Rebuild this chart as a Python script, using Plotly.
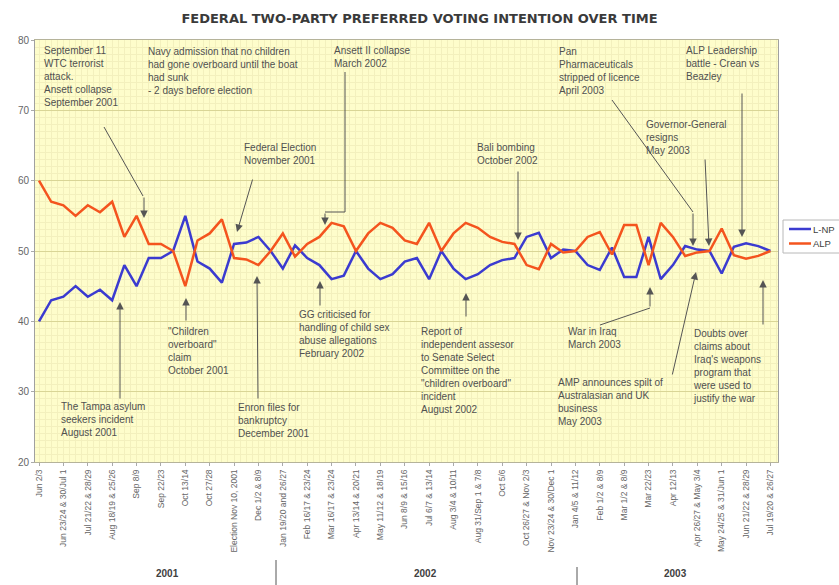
import plotly.graph_objects as go

# ---------------- data ----------------
poll_index = list(range(61))
lnp = [40, 43, 43.5, 45, 43.5, 44.5, 43, 48, 45, 49, 49, 50, 55, 48.5, 47.5, 45.5,
       51, 51.2, 52, 50, 47.5, 50.8, 49, 48, 46, 46.5, 50, 47.5, 46, 46.7, 48.5, 49,
       46, 50, 47.5, 46, 46.7, 48, 48.7, 49, 52, 52.6, 49, 50.2, 50, 48, 47.3, 50.5,
       46.3, 46.3, 52, 46, 48, 50.7, 50.2, 50, 46.8, 50.6, 51.1, 50.7, 50]
alp = [60, 57, 56.5, 55, 56.5, 55.5, 57, 52, 55, 51, 51, 50, 45, 51.5, 52.5, 54.5,
       49, 48.8, 48, 50, 52.5, 49.2, 51, 52, 54, 53.5, 50, 52.5, 54, 53.3, 51.5, 51,
       54, 50, 52.5, 54, 53.3, 52, 51.3, 51, 48, 47.4, 51, 49.8, 50, 52, 52.7, 49.5,
       53.7, 53.7, 48, 54, 52, 49.3, 49.8, 50, 53.2, 49.4, 48.9, 49.3, 50]
tick_labels = ["Jun 2/3", "Jun 23/24 & 30/Jul 1", "Jul 21/22 & 28/29", "Aug 18/19 & 25/26",
               "Sep 8/9", "Sep 22/23", "Oct 13/14", "Oct 27/28", "Election Nov 10, 2001",
               "Dec 1/2 & 8/9", "Jan 19/20 and 26/27", "Feb 16/17 & 23/24",
               "Mar 16/17 & 23/24", "Apr 13/14 & 20/21", "May 11/12 & 18/19",
               "Jun 8/9 & 15/16", "Jul 6/7 & 13/14", "Aug 3/4 & 10/11",
               "Aug 31/Sep 1 & 7/8", "Oct 5/6", "Oct 26/27 & Nov 2/3",
               "Nov 23/24 & 30/Dec 1", "Jan 4/5 & 11/12", "Feb 1/2 & 8/9",
               "Mar 1/2 & 8/9", "Mar 22/23", "Apr 12/13", "Apr 26/27 & May 3/4",
               "May 24/25 & 31/Jun 1", "Jun 21/22 & 28/29", "Jul 19/20 & 26/27"]
tick_positions = poll_index[::2]
years = ["2001", "2002", "2003"]
series_names = ["L-NP", "ALP"]
series_colors = ["#3b3bd0", "#f4541e"]

# ---------------- geometry helpers (layout only) ----------------
L, T, W, H = 35, 40, 743, 422
FW, FH = 839, 585


def px(x):
    return (x - L) / W


def py(y):
    return (T + H - y) / H


FONT = "Liberation Sans, Arial, sans-serif"
TXT = "#505050"
ARROW = "#555555"

fig = go.Figure()
for name, vals, col in zip(series_names, [lnp, alp], series_colors):
    fig.add_trace(go.Scatter(x=poll_index, y=vals, mode="lines", name=name,
                             line=dict(color=col, width=2.5), showlegend=False))

annotations = []
shapes = []


def text(x, y_center_first, s, size=10):
    annotations.append(dict(x=px(x), y=py(y_center_first - 7), xref="paper", yref="paper",
                            text=s, showarrow=False, xanchor="left", yanchor="top",
                            align="left", borderpad=0,
                            font=dict(family=FONT, size=size, color=TXT)))


def arrow(tx, ty, hx, hy):
    annotations.append(dict(x=px(hx), y=py(hy), xref="paper", yref="paper", text="",
                            showarrow=True, ax=tx - hx, ay=ty - hy, arrowhead=2,
                            arrowsize=1.5, arrowwidth=1, arrowcolor=ARROW, standoff=0))


def seg(x0, y0, x1, y1, color=ARROW, width=1):
    shapes.append(dict(type="line", xref="paper", yref="paper", x0=px(x0), y0=py(y0),
                       x1=px(x1), y1=py(y1), line=dict(color=color, width=width)))


# top callouts
text(43, 51, "September 11<br>WTC terrorist<br>attack.<br>Ansett collapse<br>September 2001")
seg(104, 127, 143, 196)
arrow(144, 196, 144, 218)

text(147, 52, "Navy admission that no children<br>had gone overboard until the boat<br>had sunk<br>- 2 days before election")

text(243, 148, "Federal Election<br>November 2001")
arrow(253, 178, 237, 232)

text(333, 51, "Ansett II collapse<br>March 2002")
seg(345, 72, 345, 212)
seg(345, 212, 325, 212)
arrow(325, 212, 325, 225)

text(476, 148, "Bali bombing<br>October 2002")
arrow(518, 170, 518, 240)

text(558, 52, "Pan<br>Pharmaceuticals<br>stripped of licence<br>April 2003")
seg(612, 100, 693, 212)
arrow(693, 212, 693, 246)

text(645, 125, "Governor-General<br>resigns<br>May 2003")
arrow(705, 158, 709, 246)

text(685, 51, "ALP Leadership<br>battle - Crean vs<br>Beazley")
arrow(742, 92, 742, 237)

# bottom callouts
text(60, 407, "The Tampa asylum<br>seekers incident<br>August 2001")
arrow(120, 400, 120, 302)

text(167, 332, "\"Children<br>overboard\"<br>claim<br>October 2001")
arrow(186, 322, 186, 298)

text(237, 408, "Enron files for<br>bankruptcy<br>December 2001")
arrow(258, 400, 257, 276)

text(298, 315, "GG criticised for<br>handling of child sex<br>abuse allegations<br>February 2002")
arrow(320, 307, 320, 281)

text(420, 332, "Report of<br>independent assesor<br>to Senate Select<br>Committee on the<br>\"children overboard\"<br>incident<br>August 2002")
arrow(466, 318, 466, 293)

text(567, 332, "War in Iraq<br>March 2003")
seg(600, 325, 650, 308)
arrow(650, 308, 650, 287)

text(557, 383, "AMP announces spilt of<br>Australasian and UK<br>business<br>May 2003")
arrow(672, 376, 696, 272)

text(692, 334, "Doubts over<br>claims about<br>Iraq's weapons<br>program that<br>were used to<br>justify the war")
arrow(763, 326, 763, 280)

# year labels
for yr, xc in zip(years, [167, 425, 675]):
    annotations.append(dict(x=px(xc), y=py(573), xref="paper", yref="paper", text="<b>%s</b>" % yr,
                            showarrow=False, xanchor="center", yanchor="middle",
                            font=dict(family=FONT, size=10, color="#404040")))
for xs, ys in [(276, 560), (577, 567)]:
    seg(xs, ys, xs, 585)

# legend (drawn by hand so it fits the narrow right margin)
shapes.append(dict(type="rect", xref="paper", yref="paper", x0=px(783), x1=px(850),
                   y0=py(253), y1=py(220), line=dict(color="#b8b8b8", width=1),
                   fillcolor="white", layer="below"))
for i, (name, col) in enumerate(zip(series_names, series_colors)):
    yy = 229 + 14.5 * i
    seg(789, yy, 811, yy, color=col, width=2.5)
    annotations.append(dict(x=px(812), y=py(yy), xref="paper", yref="paper", text=name,
                            showarrow=False, xanchor="left", yanchor="middle", borderpad=0,
                            font=dict(family=FONT, size=9.5, color="#404040")))

fig.update_layout(
    width=FW, height=FH,
    margin=dict(l=L, r=FW - L - W, t=T, b=FH - T - H, pad=0),
    paper_bgcolor="white",
    plot_bgcolor="#fefdcb",
    title=dict(text="<b>FEDERAL TWO-PARTY PREFERRED VOTING INTENTION OVER TIME</b>",
               x=0.5, xanchor="center", y=1 - 18 / FH, yanchor="middle",
               font=dict(family="DejaVu Sans, sans-serif", size=13, color="#3a3a3a")),
    showlegend=False,
    annotations=annotations,
    shapes=shapes,
    hovermode=False,
)

fig.update_xaxes(
    range=[-0.33, 60.62], tickmode="array", tickvals=tick_positions, ticktext=tick_labels,
    tickangle=-90, tickfont=dict(family=FONT, size=8.5, color="#666666"),
    showgrid=False, zeroline=False, automargin=False,
    showline=True, linecolor="#b5b39a", linewidth=1, mirror=True,
    ticks="outside", ticklen=3, tickcolor="#aaaaaa",
    minor=dict(dtick=0.5, tick0=0, showgrid=True, gridcolor="#f3f0bd", gridwidth=1),
)
fig.update_yaxes(
    range=[20, 80], dtick=10, tickfont=dict(family=FONT, size=10, color="#666666"),
    showgrid=True, gridcolor="#d9d596", gridwidth=1, zeroline=False, automargin=False,
    showline=True, linecolor="#a0a0a0", linewidth=1, mirror=True,
    ticks="outside", ticklen=3, tickcolor="#aaaaaa",
    minor=dict(dtick=1, showgrid=True, gridcolor="#f3f0bd", gridwidth=1),
)

fig.write_html("out.html", config={"displayModeBar": False},
               post_script="document.body.style.margin='0px';document.body.style.overflow='hidden';")
